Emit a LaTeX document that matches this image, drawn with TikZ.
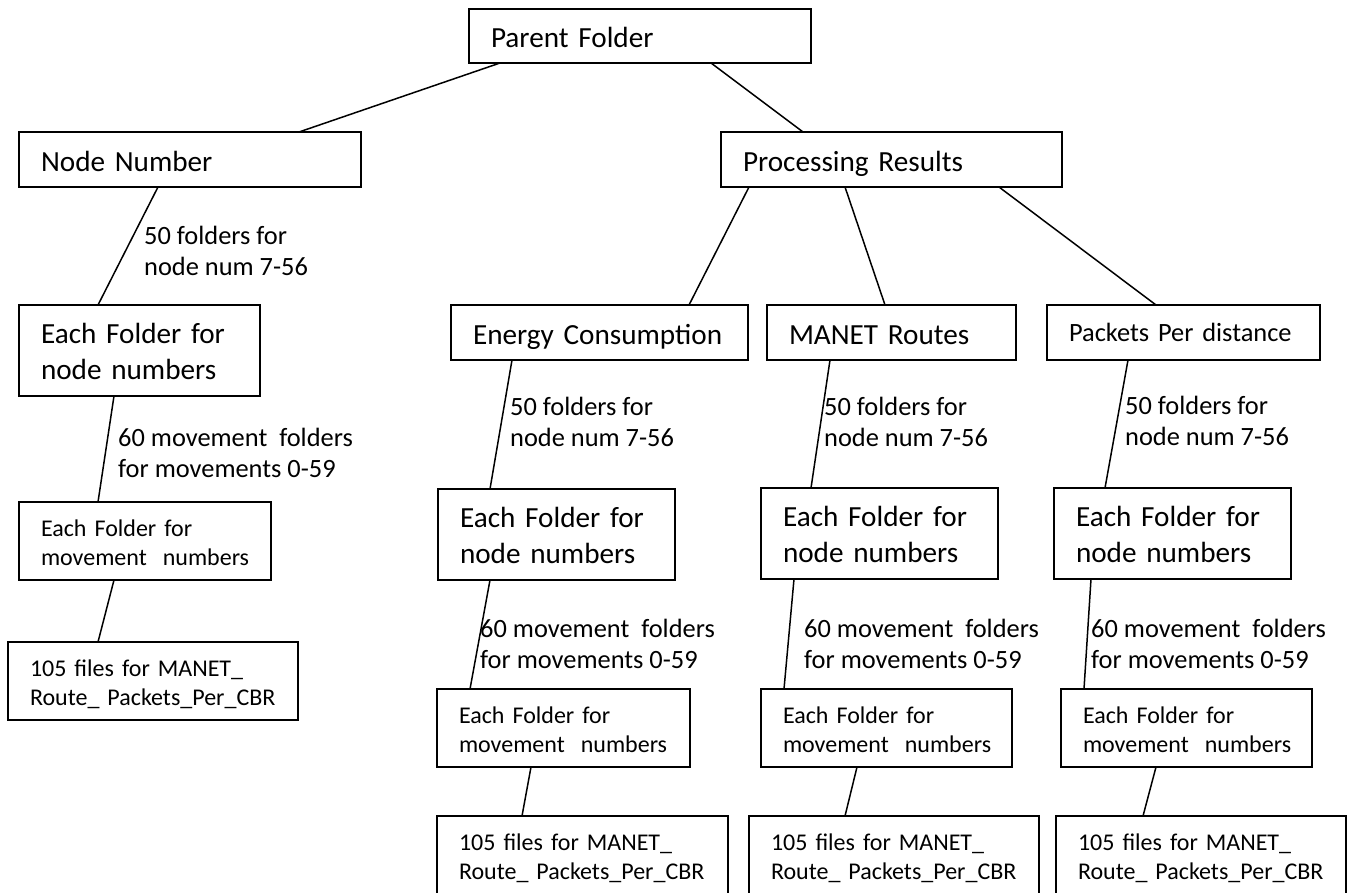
\documentclass[tikz,border=0pt]{standalone}
\usepackage{fontspec}
\setmainfont{Carlito}
\newcommand\fbig{\fontsize{29.2}{36}\selectfont}
\newcommand\fmid{\fontsize{26.4}{31}\selectfont}
\newcommand\fsml{\fontsize{24}{28.5}\selectfont}
\tikzset{
  box/.style={draw, line width=1.8pt, rectangle, anchor=north west, outer sep=0pt,
              inner xsep=22pt, inner ysep=0pt, align=left,
              execute at begin node={\hyphenpenalty=10000\exhyphenpenalty=10000\hfuzz=20pt}},
  bigone/.style={box, font=\fbig, text height=23pt, text depth=0pt, minimum height=55pt},
  midone/.style={box, font=\fmid, text height=17pt, text depth=0pt, minimum height=55pt},
  bigtwo/.style={box, font=\fbig, text height=21pt, text depth=36pt, minimum height=91pt},
  smltwo/.style={box, font=\fsml, text height=20pt, text depth=28.5pt, minimum height=78pt},
  link/.style={line width=1.5pt},
  lab/.style={anchor=base west, inner sep=0pt, align=left, font=\fmid},
}
\begin{document}
\begin{tikzpicture}[x=1pt,y=-1pt]
\useasboundingbox (0,0) rectangle (1349,892);
\clip (0,0) rectangle (1349,892);
% top levels
\node[bigone, text width=298pt, minimum height=54pt] (parent) at (469,9) {Parent~Folder};
\node[bigone, text width=298pt] (nodenum) at (19,132) {Node~Number};
\node[bigone, text width=297pt] (proc) at (721,132) {Processing~Results};
\node[bigone, text width=253pt] (energy) at (451,305) {Energy~Consumption};
\node[bigone, text width=205pt] (manet) at (767,305) {MANET~Routes};
\node[midone, text width=229pt] (packets) at (1047,305) {Packets~Per~distance};
% node-number folders
\node[bigtwo, text width=197pt] (eachL) at (19,305) {Each~Folder~for\\node~numbers};
\node[bigtwo, text width=193pt] (each2) at (438,489) {Each~Folder~for\\node~numbers};
\node[bigtwo, text width=193pt] (each3) at (761,488) {Each~Folder~for\\node~numbers};
\node[bigtwo, text width=193pt] (each4) at (1054,488) {Each~Folder~for\\node~numbers};
% movement folders
\node[smltwo, text width=208pt] (movL) at (19,502) {Each~Folder~for\\movement~~numbers};
\node[smltwo, text width=209pt] (mov2) at (437,689) {Each~Folder~for\\movement~~numbers};
\node[smltwo, text width=207pt] (mov3) at (761,689) {Each~Folder~for\\movement~~numbers};
\node[smltwo, text width=207pt] (mov4) at (1061,689) {Each~Folder~for\\movement~~numbers};
% files
\node[smltwo, text width=246pt] (filesL) at (8,642) {105~files~for~MANET\_\\Route\_~Packets\_Per\_CBR};
\node[smltwo, text width=247pt] (files2) at (437,816) {105~files~for~MANET\_\\Route\_~Packets\_Per\_CBR};
\node[smltwo, text width=246pt] (files3) at (749,816) {105~files~for~MANET\_\\Route\_~Packets\_Per\_CBR};
\node[smltwo, text width=246pt] (files4) at (1056,816) {105~files~for~MANET\_\\Route\_~Packets\_Per\_CBR};
% connectors
\draw[link] ([xshift=31pt]parent.south west) -- ([xshift=280pt]nodenum.north west);
\draw[link] ([xshift=242pt]parent.south west) -- ([xshift=82pt]proc.north west);
\draw[link] ([xshift=139pt]nodenum.south west) -- ([xshift=79pt]eachL.north west);
\draw[link] ([xshift=95pt]eachL.south west) -- ([xshift=79pt]movL.north west);
\draw[link] ([xshift=95pt]movL.south west) -- ([xshift=90pt]filesL.north west);
\draw[link] ([xshift=28pt]proc.south west) -- ([xshift=238pt]energy.north west);
\draw[link] ([xshift=124pt]proc.south west) -- ([xshift=118pt]manet.north west);
\draw[link] ([xshift=278pt]proc.south west) -- ([xshift=109pt]packets.north west);
\draw[link] ([xshift=61pt]energy.south west) -- ([xshift=52pt]each2.north west);
\draw[link] ([xshift=63pt]manet.south west) -- ([xshift=50pt]each3.north west);
\draw[link] ([xshift=81pt]packets.south west) -- ([xshift=51pt]each4.north west);
\draw[link] ([xshift=52pt]each2.south west) -- ([xshift=33pt]mov2.north west);
\draw[link] ([xshift=33pt]each3.south west) -- ([xshift=23pt]mov3.north west);
\draw[link] ([xshift=37pt]each4.south west) -- ([xshift=23pt]mov4.north west);
\draw[link] ([xshift=94pt]mov2.south west) -- ([xshift=85pt]files2.north west);
\draw[link] ([xshift=96pt]mov3.south west) -- ([xshift=96pt]files3.north west);
\draw[link] ([xshift=95pt]mov4.south west) -- ([xshift=87pt]files4.north west);
% labels (anchored at the baseline of the last line)
\node[lab] (l1) at (144,275) {50~folders~for\\node~num~7-56};
\node[lab] (l2) at (118,477) {60~movement~~folders\\for~movements~0-59};
\node[lab] (l3) at (510,446) {50~folders~for\\node~num~7-56};
\node[lab] (l4) at (824,446) {50~folders~for\\node~num~7-56};
\node[lab] (l5) at (1125,445) {50~folders~for\\node~num~7-56};
\node[lab] (l6) at (480,668) {60~movement~~folders\\for~movements~0-59};
\node[lab] (l7) at (804,668) {60~movement~~folders\\for~movements~0-59};
\node[lab] (l8) at (1091,668) {60~movement~~folders\\for~movements~0-59};
\end{tikzpicture}
\end{document}
